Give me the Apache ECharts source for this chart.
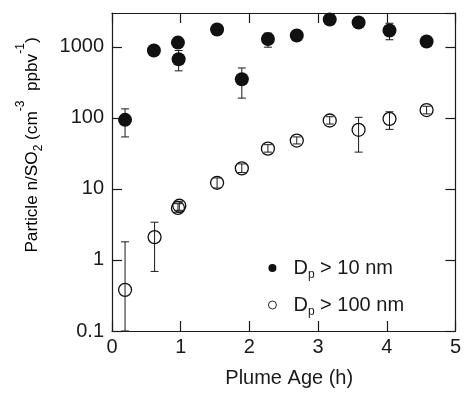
<!DOCTYPE html>
<html>
<head>
<meta charset="utf-8">
<script src="https://cdn.jsdelivr.net/npm/echarts@6/dist/echarts.min.js"></script>
<style>html,body{margin:0;padding:0;background:#fff;}#c{width:464px;height:393px;}</style>
</head>
<body>
<div id="c"></div>
<script>
// Plume age (h) and particle n/SO2 ratios
const filledAge = [0.19, 0.61, 0.96, 0.97, 1.53, 1.89, 2.27, 2.69, 3.17, 3.59, 4.04, 4.58];
const filledVal = [94, 890, 1150, 670, 1760, 350, 1290, 1450, 2430, 2200, 1700, 1190];
const filledLo  = [54, null, null, 460, null, 190, 990, null, null, null, 1260, null];
const filledHi  = [134, null, null, 890, null, 505, 1560, null, null, null, 2150, null];

const openAge = [0.19, 0.62, 0.96, 0.98, 1.53, 1.89, 2.27, 2.69, 3.17, 3.59, 4.04, 4.58];
const openVal = [0.38, 2.1, 5.4, 5.8, 12.2, 19.5, 37, 48, 92, 68, 97, 129];
const openLo  = [0.1, 0.69, 4.7, 5.0, 10.3, 17, 33, 43, 82, 33, 69, 114];
const openHi  = [1.8, 3.4, 6.2, 6.6, 14.3, 22.5, 42, 54, 104, 102, 122, 146];

const xTicks = [0, 1, 2, 3, 4, 5];
const yTicks = [0.1, 1, 10, 100, 1000];

const FONT = 'Liberation Sans, Arial, sans-serif';
const INK = '#1a1a1a';

function pts(xs, ys) { return xs.map((x, i) => [x, ys[i]]); }
function errs(xs, lo, hi) {
  const out = [];
  xs.forEach((x, i) => { if (lo[i] != null && hi[i] != null) out.push([x, lo[i], hi[i]]); });
  return out;
}
function errRender(params, api) {
  const x = api.value(0), lo = api.value(1), hi = api.value(2);
  const a = api.coord([x, hi]), b = api.coord([x, lo]);
  const w = 4;
  const st = { stroke: INK, lineWidth: 1 };
  return { type: 'group', children: [
    { type: 'line', shape: { x1: a[0], y1: a[1], x2: b[0], y2: b[1] }, style: st },
    { type: 'line', shape: { x1: a[0] - w, y1: a[1], x2: a[0] + w, y2: a[1] }, style: st },
    { type: 'line', shape: { x1: b[0] - w, y1: b[1], x2: b[0] + w, y2: b[1] }, style: st }
  ]};
}

function axisCommon() {
  return {
    axisLine: { show: true, onZero: false, lineStyle: { color: INK, width: 1.2 } },
    axisTick: { show: true, inside: true, length: 10, lineStyle: { color: INK, width: 1.2 } },
    splitLine: { show: false }
  };
}

function rich(size) {
  return {
    b: { fontSize: size, fontFamily: FONT, color: INK, lineHeight: 20 },
    sub: { fontSize: 12, fontFamily: FONT, color: INK, lineHeight: 12, padding: [14, 0, 0, 0] },
    sup: { fontSize: 12, fontFamily: FONT, color: INK, lineHeight: 12, padding: [0, 0, 22, 0] }
  };
}

const chart = echarts.init(document.getElementById('c'), null, { renderer: 'canvas' });
chart.setOption({
  animation: false,
  backgroundColor: '#fff',
  grid: { left: 112, right: 7, top: 13, bottom: 60 },
  xAxis: [
    Object.assign(axisCommon(), {
      type: 'value', min: xTicks[0], max: xTicks[xTicks.length - 1], interval: 1, position: 'bottom',
      axisLabel: { fontSize: 20, fontFamily: FONT, color: INK, margin: 6 },
      name: 'Plume Age (h)', nameLocation: 'middle', nameGap: 37,
      nameTextStyle: { fontSize: 20, fontFamily: FONT, color: INK, padding: [0, 0, 0, 11] }
    }),
    Object.assign(axisCommon(), {
      type: 'value', min: xTicks[0], max: xTicks[xTicks.length - 1], interval: 1, position: 'top',
      axisLabel: { show: false }
    })
  ],
  yAxis: [
    Object.assign(axisCommon(), {
      type: 'log', logBase: 10, min: yTicks[0], max: 3000, position: 'left',
      axisLabel: { fontSize: 20, fontFamily: FONT, color: INK, margin: 8, showMaxLabel: false,
        formatter: v => String(+(+v).toPrecision(6)) }
    }),
    Object.assign(axisCommon(), {
      type: 'log', logBase: 10, min: yTicks[0], max: 3000, position: 'right',
      axisLabel: { show: false }
    })
  ],
  legend: {
    orient: 'vertical', left: 263, top: 250, itemWidth: 8, itemHeight: 8, itemGap: 11,
    icon: 'circle', selectedMode: false,
    data: [
      { name: 'Dp > 10 nm' },
      { name: 'Dp > 100 nm', itemStyle: { color: '#fff', borderColor: '#111', borderWidth: 0.9 } }
    ],
    formatter: n => n === 'Dp > 10 nm' ? '{b|D}{sub|p}{b| > 10 nm}' : '{b|D}{sub|p}{b| > 100 nm}',
    textStyle: { rich: rich(20), padding: [0, 0, 0, 12] }
  },
  graphic: [{
    type: 'text', x: 32, y: 145, rotation: Math.PI / 2,
    style: {
      text: '{b|Particle n/SO}{sub|2}{b| (cm}{sup|-3}{b|  ppbv}{sup|-1}{b|)}',
      rich: rich(17.2), align: 'center', verticalAlign: 'middle'
    }
  }],
  series: [
    { type: 'custom', name: 'errFilled', renderItem: errRender, data: errs(filledAge, filledLo, filledHi),
      encode: { x: 0, y: [1, 2] }, z: 2, silent: true },
    { type: 'custom', name: 'errOpen', renderItem: errRender, data: errs(openAge, openLo, openHi),
      encode: { x: 0, y: [1, 2] }, z: 2, silent: true },
    { type: 'scatter', name: 'Dp > 10 nm', data: pts(filledAge, filledVal), symbol: 'circle', symbolSize: 14,
      itemStyle: { color: '#111', opacity: 1 }, z: 5 },
    { type: 'scatter', name: 'Dp > 100 nm', data: pts(openAge, openVal), symbol: 'circle', symbolSize: 13,
      itemStyle: { color: 'rgba(255,255,255,0)', borderColor: '#111', borderWidth: 1.3, opacity: 1 }, z: 5 }
  ]
});
</script>
</body>
</html>
